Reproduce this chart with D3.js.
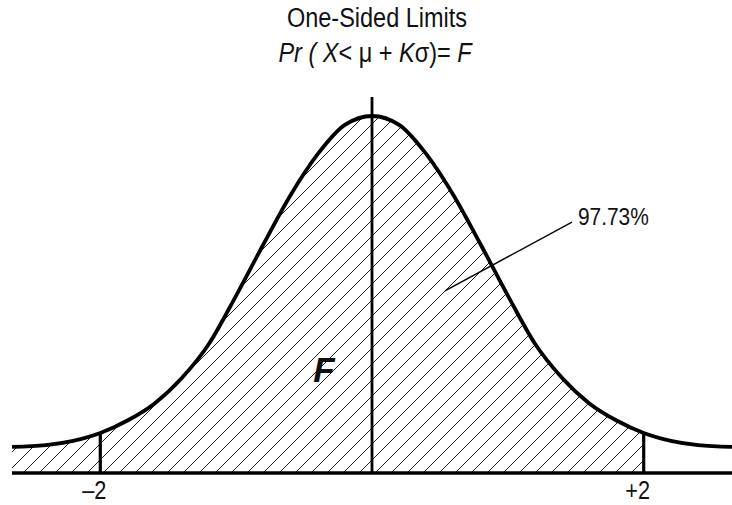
<!DOCTYPE html>
<html>
<head>
<meta charset="utf-8">
<script src="https://cdn.jsdelivr.net/npm/d3@7"></script>
<style>
  body { margin: 0; background: #fff; }
  svg { display: block; }
  text { font-family: "Liberation Sans", Arial, sans-serif; fill: #111; }
</style>
</head>
<body>
<svg id="chart" width="732" height="505"></svg>
<script>
// curve: z in sigma units, height relative to the peak
var curveZ = [-2.65, -2.4, -2.2, -2.0, -1.8, -1.6, -1.4, -1.2, -1.0, -0.8, -0.6, -0.4, -0.2, 0,
              0.2, 0.4, 0.6, 0.8, 1.0, 1.2, 1.4, 1.6, 1.8, 2.0, 2.2, 2.4, 2.65];
var curveDensity = [0.073, 0.078, 0.090, 0.112, 0.147, 0.195, 0.266, 0.362, 0.497, 0.640, 0.778, 0.893, 0.975, 1.0,
                    0.975, 0.893, 0.778, 0.640, 0.497, 0.362, 0.266, 0.195, 0.147, 0.112, 0.090, 0.078, 0.073];
var limits = [-2, 2];
var limitLabels = ["\u20132", "+2"];
var shadeTo = 2;
var areaLabel = "97.73%";
var title = "One-Sided Limits";

var svg = d3.select("#chart");
var width = 732, height = 505;
var squeeze = 0.87; // condensed look for the sans text

var data = curveZ.map(function(z, i) { return {z: z, d: curveDensity[i]}; });

var x = d3.scaleLinear().domain([-2.65, 2.65]).range([12, 732]);
var y = d3.scaleLinear().domain([0, 1]).range([473, 116]);

function densityAt(z) {
  return data.find(function(p) { return p.z === z; }).d;
}

/* adds a horizontally condensed text at (tx, ty) */
function condensedText(str, tx, ty, size, anchor) {
  return svg.append("text")
    .text(str)
    .attr("transform", "translate(" + tx + "," + ty + ") scale(" + squeeze + ",1)")
    .style("text-anchor", anchor || "start")
    .style("font-size", size + "px");
}

/* hatch pattern and clip for the shaded area */
var defs = svg.append("defs");
var pat = defs.append("pattern")
  .attr("id", "hatch")
  .attr("patternUnits", "userSpaceOnUse")
  .attr("width", 16)
  .attr("height", 16);
pat.append("path")
  .attr("d", "M0,16 L16,0 M-4,4 L4,-4 M12,20 L20,12")
  .attr("stroke", "#222")
  .attr("stroke-width", 1);

defs.append("clipPath")
  .attr("id", "shadeClip")
  .append("rect")
    .attr("x", x(-2.65))
    .attr("y", 0)
    .attr("width", x(shadeTo) - x(-2.65))
    .attr("height", height);

var area = d3.area()
  .x(function(d) { return x(d.z); })
  .y0(y(0))
  .y1(function(d) { return y(d.d); })
  .curve(d3.curveMonotoneX);

var line = d3.line()
  .x(function(d) { return x(d.z); })
  .y(function(d) { return y(d.d); })
  .curve(d3.curveMonotoneX);

svg.append("path")
  .datum(data)
  .attr("d", area)
  .attr("fill", "url(#hatch)")
  .attr("clip-path", "url(#shadeClip)");

// centre line, runs above the peak
svg.append("line")
  .attr("x1", x(0)).attr("x2", x(0))
  .attr("y1", y(0)).attr("y2", y(1) - 19)
  .attr("stroke", "#000")
  .attr("stroke-width", 2.8);

// limit lines at -2 and +2
svg.selectAll(".limit")
  .data(limits)
  .enter()
  .append("line")
    .attr("class", "limit")
    .attr("x1", function(d) { return x(d); })
    .attr("x2", function(d) { return x(d); })
    .attr("y1", y(0))
    .attr("y2", function(d) { return y(densityAt(d)); })
    .attr("stroke", "#000")
    .attr("stroke-width", 3.2);

// baseline
svg.append("line")
  .attr("x1", x(-2.65)).attr("x2", width)
  .attr("y1", y(0)).attr("y2", y(0))
  .attr("stroke", "#000")
  .attr("stroke-width", 3.4);

// the curve
svg.append("path")
  .datum(data)
  .attr("d", line)
  .attr("fill", "none")
  .attr("stroke", "#000")
  .attr("stroke-width", 3.8);

// tick labels under the limit lines
limits.forEach(function(d, i) {
  condensedText(limitLabels[i], x(d) - 6, 499, 25, "middle");
});

// leader line and percentage
svg.append("line")
  .attr("x1", x(0.537)).attr("y1", y(0.51))
  .attr("x2", x(1.472)).attr("y2", y(0.703))
  .attr("stroke", "#000")
  .attr("stroke-width", 1.4);

condensedText(areaLabel, x(1.516), y(0.695), 24, "start");

// F label
svg.append("text")
  .text("F")
  .attr("x", 324)
  .attr("y", 382)
  .style("text-anchor", "middle")
  .style("font-weight", "bold")
  .style("font-style", "italic")
  .style("font-size", "35px");

// titles
condensedText(title, 377, 27, 27, "middle");

var sub = condensedText("", 375, 62, 27, "middle");
sub.append("tspan").style("font-style", "italic").text("Pr ( X");
sub.append("tspan").text("< \u03bc + ");
sub.append("tspan").style("font-style", "italic").text("K");
sub.append("tspan").text("\u03c3)= ");
sub.append("tspan").style("font-style", "italic").text("F");
</script>
</body>
</html>
